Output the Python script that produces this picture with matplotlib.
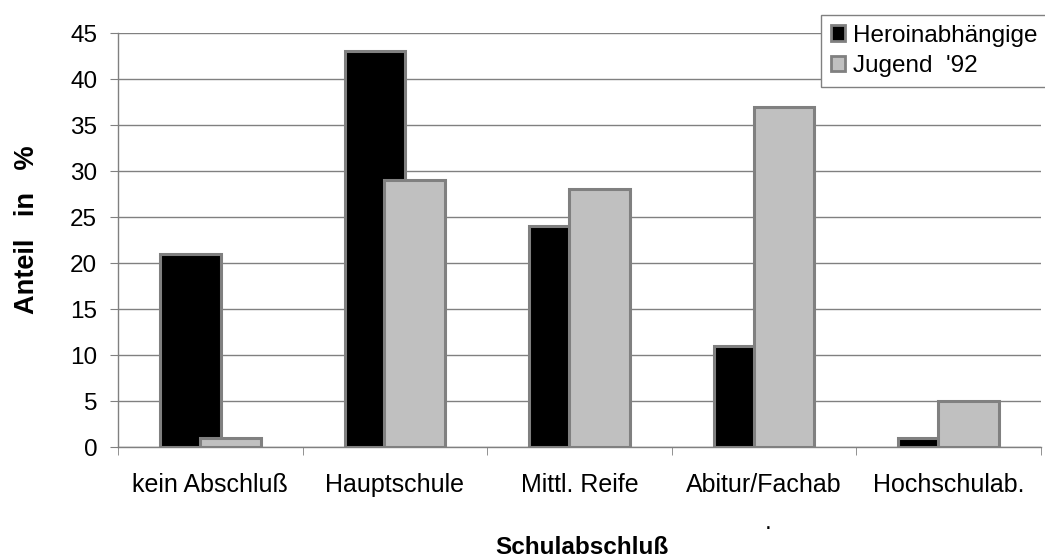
import numpy as np
import matplotlib
matplotlib.use("Agg")
import matplotlib.pyplot as plt
from matplotlib.patches import Patch

plt.rcParams['font.family'] = ['Liberation Sans', 'DejaVu Sans']

categories = ["kein Abschluß", "Hauptschule", "Mittl. Reife", "Abitur/Fachab", "Hochschulab."]
heroin = [21, 43, 24, 11, 1]
jugend = [1, 29, 28, 37, 5]
series_names = ["Heroinabhängige", "Jugend  '92"]
yticks = [0, 5, 10, 15, 20, 25, 30, 35, 40, 45]

W, H = 1045, 557
FS = 17.5
fig = plt.figure(figsize=(W / 100, H / 100), dpi=100)
ax = fig.add_axes([118 / W, 1 - 447 / H, (1041 - 118) / W, (447 - 33) / H])

edge = "#808080"
x = np.arange(len(categories))
bw = 0.33
off = 0.108
ax.bar(x - off, heroin, width=bw, color="black", edgecolor=edge, linewidth=2.2, zorder=3)
ax.bar(x + off, jugend, width=bw, color="#C0C0C0", edgecolor=edge, linewidth=2.2, zorder=4)

ax.set_xlim(-0.5, len(categories) - 0.5)
ax.set_ylim(0, 45)
ax.set_yticks(yticks)
ax.yaxis.grid(True, color=edge, linewidth=1.0, zorder=0)
ax.set_axisbelow(True)

for s in ["top", "right"]:
    ax.spines[s].set_visible(False)
for s in ["left", "bottom"]:
    ax.spines[s].set_color(edge)
    ax.spines[s].set_linewidth(1.0)

ax.set_xticks(x)
ax.set_xticklabels(categories, fontsize=18)
ax.set_xticks(np.arange(len(categories) + 1) - 0.5, minor=True)
ax.tick_params(axis="x", which="major", length=0, pad=19)
ax.tick_params(axis="x", which="minor", length=6, color=edge, direction="out")
ax.tick_params(axis="y", length=6, color=edge, labelsize=FS, pad=9)

fig.text(27 / W, 1 - 230 / H, "Anteil   in   %", rotation=90, fontsize=19.5,
         fontweight="bold", ha="center", va="center")
fig.text(582 / W, 1 - 554 / H, "Schulabschluß", fontsize=FS, fontweight="bold",
         ha="center", va="baseline")
fig.text(768 / W, 1 - 529 / H, ".", fontsize=FS, ha="center", va="baseline")

handles = [Patch(facecolor="black", edgecolor=edge, linewidth=2.0),
           Patch(facecolor="#C0C0C0", edgecolor=edge, linewidth=2.0)]
leg = fig.legend(handles, series_names, loc="upper left",
                 bbox_to_anchor=(821 / W, 1 - 15 / H), fontsize=FS,
                 handlelength=0.6, handleheight=0.6, handletextpad=0.32,
                 borderpad=0.4, labelspacing=0.35, fancybox=False,
                 framealpha=1, edgecolor=edge, borderaxespad=0)
leg.get_frame().set_linewidth(1.0)

fig.savefig("out.png", dpi=100)
